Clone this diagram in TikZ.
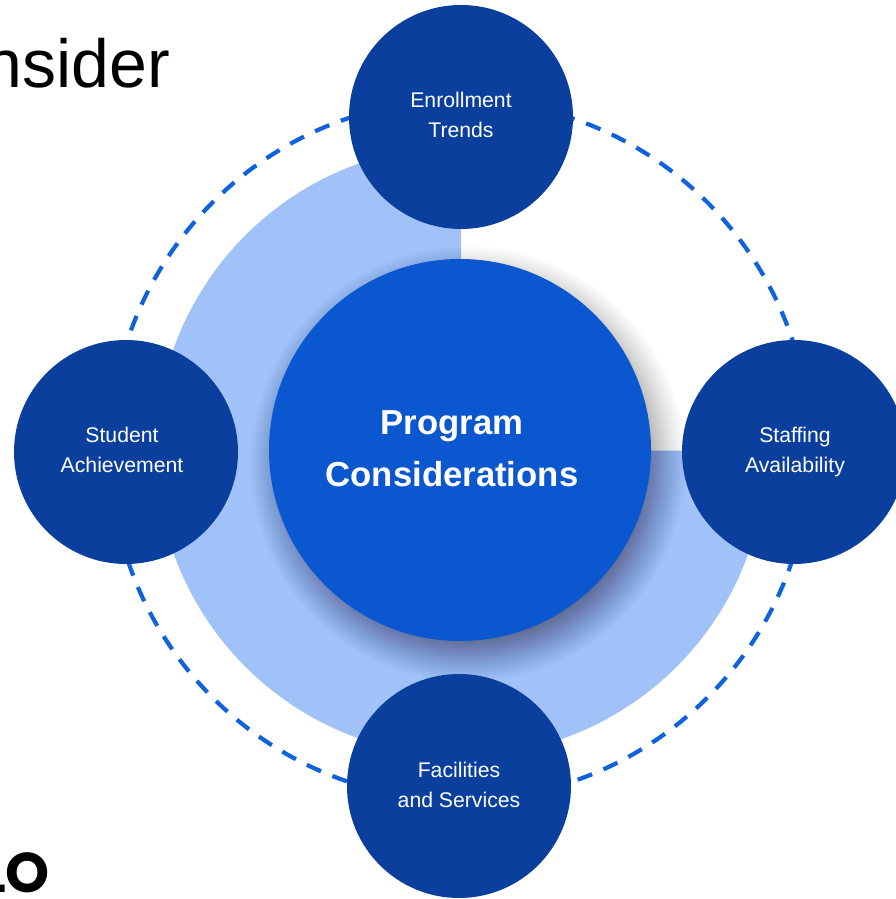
\documentclass[tikz,border=0pt]{standalone}
\usepackage{fontspec}
\setmainfont{Liberation Sans}
\newfontfamily\logofont{Poppins}
\definecolor{midblue}{HTML}{0B57D0}
\definecolor{deepblue}{HTML}{0B3F9E}
\definecolor{lightblue}{HTML}{A1C2F9}
\definecolor{dashblue}{HTML}{0F62DE}
\tikzset{
  sat/.style={circle,fill=deepblue,minimum size=224pt,inner sep=0pt},
  satlabel/.style={text=white,align=center,font=\fontsize{21.2}{30}\selectfont},
  hub/.style={circle,fill=midblue,minimum size=382pt,inner sep=0pt},
  hublabel/.style={text=white,align=center,font=\fontsize{34.7}{52}\selectfont\bfseries},
  orbit/.style={draw=dashblue,line width=4.2pt,dash pattern=on 15.5pt off 12.34pt,dash phase=12.25pt}
}
\begin{document}
\begin{tikzpicture}[x=1pt,y=1pt]
\useasboundingbox (0,0) rectangle (896,899);
\clip (0,0) rectangle (896,899);
\fill[white] (0,0) rectangle (896,899);
% text at the page edges
\node[anchor=base east,inner sep=0pt,font=\fontsize{68}{68}\selectfont] (title) at (170,811) {nsider};
\node[anchor=base east,inner sep=0pt,font=\fontsize{56}{56}\selectfont\logofont\bfseries] (logo) at (50,6) {LO};
% three-quarter ring
\coordinate (c) at (460,449);
\fill[lightblue] (461,449) -- (461,753) arc[start angle=90,end angle=360,radius=305pt] -- cycle;
% dashed orbit
\draw[orbit] (c) circle[radius=350pt];
% hub shadow
\foreach \i in {0,...,60}{
  \pgfmathsetmacro{\r}{172+46*(\i/60)^1.5}
  \fill[black,opacity=0.0095] (468,435) circle[radius=\r pt];
}
\node[hub] (hub) at (c) {};
\node[sat] (top) at (461,782) {};
\node[sat] (right) at (794,447) {};
\node[sat] (bottom) at (459,113) {};
\node[sat] (left) at (126,447) {};
\node[hublabel] (hubtext) at (452,450) {Program\\Considerations};
\node[satlabel] (toptext) at (461,784) {Enrollment\\Trends};
\node[satlabel] (righttext) at (795,447) {Staffing\\Availability};
\node[satlabel] (bottomtext) at (459,114) {Facilities\\and Services};
\node[satlabel] (lefttext) at (122,449) {Student\\Achievement};
\end{tikzpicture}
\end{document}
